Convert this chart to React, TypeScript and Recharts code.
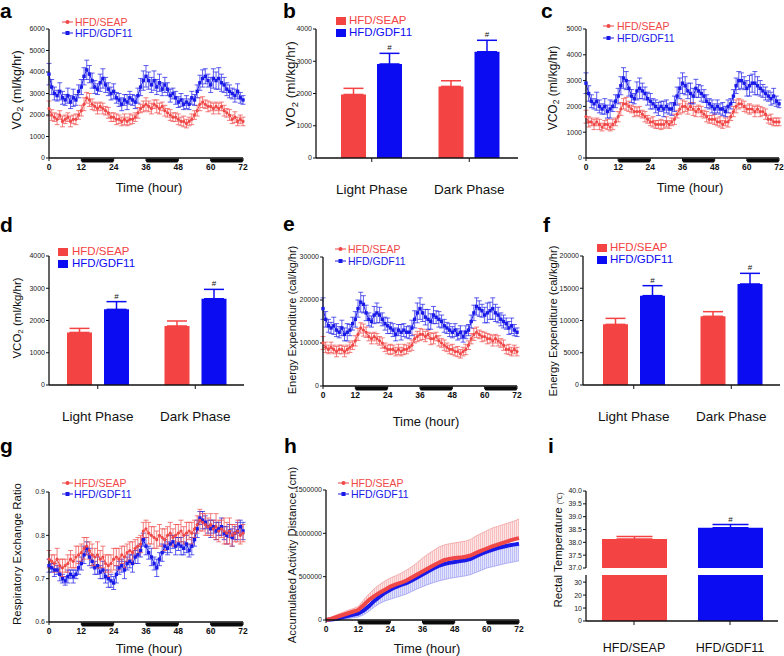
import React from 'react';
import { ComposedChart, Line, Bar, Area, XAxis, YAxis, ErrorBar, ReferenceLine } from 'recharts';

const FONT = '"Liberation Sans", Arial, Helvetica, sans-serif';
const RED = '#F04747';
const BLUE = '#1A1AE8';
const BAR_RED = '#F44343';
const BAR_BLUE = '#0C0CF2';
const INK = '#111';

// ---- shared time axis (hours) ----
const HOURS = [
  0, 1, 2, 3, 4, 5, 6, 7, 8, 9, 10, 11,
  12, 13, 14, 15, 16, 17, 18, 19, 20, 21, 22, 23,
  24, 25, 26, 27, 28, 29, 30, 31, 32, 33, 34, 35,
  36, 37, 38, 39, 40, 41, 42, 43, 44, 45, 46, 47,
  48, 49, 50, 51, 52, 53, 54, 55, 56, 57, 58, 59,
  60, 61, 62, 63, 64, 65, 66, 67, 68, 69, 70, 71,
  72,
];
const TIME_TICKS = [0, 12, 24, 36, 48, 60, 72];
const DARK_PHASES = [[12, 24], [36, 48], [60, 72]];

// ---- a: VO2 ----
const A_GDF = [
  3900, 3300, 3000, 2900, 3100, 2800, 2700, 2900, 2600, 2800, 2700, 3100,
  3300, 3800, 4100, 3900, 3600, 3300, 3200, 3500, 3700, 3400, 3200, 3000,
  3100, 2800, 2700, 2500, 2700, 2600, 2800, 2700, 2600, 2900, 3300, 3600,
  3800, 3600, 3400, 3600, 3300, 3500, 3200, 3400, 3200, 2900, 3000, 2800,
  2600, 2700, 2500, 2600, 2500, 2800, 2700, 3100, 3500, 3700, 3800, 3600,
  3400, 3700, 3600, 3700, 3500, 3400, 3200, 3100, 3000, 2900, 3100, 2800,
  2700,
];
const A_GDF_ERR = [
  500, 350, 300, 250, 400, 300, 250, 350, 300, 400, 250, 300,
  350, 400, 450, 400, 350, 300, 250, 400, 450, 350, 300, 300,
  350, 250, 300, 300, 250, 350, 300, 250, 300, 350, 400, 450,
  500, 400, 350, 450, 350, 400, 300, 350, 300, 300, 250, 300,
  250, 300, 250, 300, 250, 300, 250, 300, 350, 400, 350, 300,
  350, 450, 400, 500, 400, 350, 300, 300, 250, 300, 350, 250,
  200,
];
const A_SEAP = [
  2300, 2000, 1900, 1800, 2000, 1700, 1800, 1900, 1700, 1800, 1800, 2000,
  2200, 2500, 2800, 2700, 2500, 2400, 2300, 2400, 2300, 2200, 2100, 1900,
  1900, 1800, 1800, 1700, 1800, 1700, 1800, 1800, 1900, 2100, 2300, 2400,
  2500, 2400, 2300, 2500, 2400, 2300, 2400, 2200, 2100, 2000, 1900, 1900,
  1800, 1700, 1700, 1600, 1700, 1800, 2000, 2200, 2500, 2600, 2500, 2400,
  2400, 2300, 2400, 2300, 2400, 2200, 2100, 2000, 1800, 1900, 1700, 1800,
  1700,
];
const A_SEAP_ERR = [
  350, 250, 200, 250, 200, 250, 200, 200, 250, 200, 250, 200,
  250, 300, 250, 300, 250, 200, 250, 200, 250, 200, 250, 200,
  200, 250, 200, 200, 250, 200, 250, 200, 200, 250, 200, 250,
  300, 250, 250, 200, 300, 250, 200, 250, 200, 250, 200, 200,
  250, 200, 250, 200, 200, 250, 200, 250, 300, 250, 200, 250,
  200, 250, 200, 250, 200, 250, 200, 250, 200, 250, 200, 200,
  200,
];

// ---- c: VCO2 ----
const C_GDF = [
  2900, 2500, 2200, 2100, 2200, 2000, 1900, 2000, 1800, 1900, 2000, 2200,
  2400, 2800, 3100, 3000, 2700, 2400, 2300, 2600, 2700, 2600, 2500, 2300,
  2200, 2100, 2000, 1900, 2000, 1900, 2000, 1900, 1900, 2100, 2400, 2700,
  2900, 2800, 2600, 2500, 2400, 2700, 2600, 2500, 2400, 2200, 2100, 2000,
  1900, 2000, 1900, 1900, 1800, 2000, 2100, 2400, 2800, 3000, 3000, 2900,
  2700, 2800, 2900, 2900, 2800, 2700, 2600, 2500, 2400, 2300, 2400, 2200,
  2100,
];
const C_GDF_ERR = [
  400, 300, 250, 200, 350, 250, 200, 300, 250, 350, 200, 250,
  300, 350, 400, 350, 300, 250, 200, 350, 400, 300, 250, 250,
  300, 200, 250, 250, 200, 300, 250, 200, 250, 300, 350, 400,
  400, 350, 300, 400, 300, 350, 250, 300, 250, 250, 200, 250,
  200, 250, 200, 250, 200, 250, 200, 250, 300, 350, 300, 250,
  300, 400, 350, 450, 350, 300, 250, 250, 200, 250, 300, 200,
  150,
];
const C_SEAP = [
  1600, 1400, 1400, 1300, 1400, 1300, 1200, 1300, 1300, 1200, 1300, 1400,
  1600, 1900, 2100, 2100, 2000, 1900, 1800, 1800, 1800, 1700, 1600, 1500,
  1400, 1400, 1300, 1300, 1300, 1300, 1400, 1300, 1400, 1500, 1700, 1900,
  2000, 2000, 1900, 2000, 1900, 1800, 1900, 1800, 1700, 1600, 1500, 1500,
  1500, 1400, 1400, 1300, 1400, 1400, 1600, 1800, 2000, 2100, 2100, 2000,
  1900, 1900, 1900, 1800, 1900, 1800, 1800, 1700, 1500, 1500, 1400, 1400,
  1400,
];
const C_SEAP_ERR = [
  250, 200, 150, 200, 150, 200, 150, 150, 200, 150, 200, 150,
  200, 250, 200, 250, 200, 150, 200, 150, 200, 150, 200, 150,
  150, 200, 150, 150, 200, 150, 200, 150, 150, 200, 150, 200,
  250, 200, 200, 150, 250, 200, 150, 200, 150, 200, 150, 150,
  200, 150, 200, 150, 150, 200, 150, 200, 250, 200, 150, 200,
  150, 200, 150, 200, 150, 200, 150, 200, 150, 200, 150, 150,
  150,
];

// ---- e: energy expenditure ----
const E_GDF = [
  18000, 15500, 14000, 13500, 14000, 13000, 12500, 13500, 12000, 12500, 13000, 14500,
  15500, 18000, 19500, 19000, 17000, 15500, 15000, 16500, 17000, 16500, 15500, 14500,
  14000, 13500, 13000, 12000, 13000, 12500, 13000, 12500, 12500, 13500, 15500, 17000,
  18000, 17000, 16000, 15500, 15000, 16500, 16000, 15500, 15000, 14000, 13500, 13000,
  12500, 13000, 12000, 12500, 11500, 12500, 13000, 15000, 17000, 18500, 18000, 17500,
  16500, 17000, 17500, 18000, 17000, 16500, 15500, 15000, 14500, 13500, 14000, 13000,
  12500,
];
const E_GDF_ERR = [
  2500, 1800, 1500, 1300, 2000, 1500, 1300, 1800, 1500, 2000, 1300, 1500,
  1800, 2000, 2300, 2000, 1800, 1500, 1300, 2000, 2300, 1800, 1500, 1500,
  1800, 1300, 1500, 1500, 1300, 1800, 1500, 1300, 1500, 1800, 2000, 2300,
  2500, 2000, 1800, 2300, 1800, 2000, 1500, 1800, 1500, 1500, 1300, 1500,
  1300, 1500, 1300, 1500, 1300, 1500, 1300, 1500, 1800, 2000, 1800, 1500,
  1800, 2300, 2000, 2500, 2000, 1800, 1500, 1500, 1300, 1500, 1800, 1300,
  1000,
];
const E_SEAP = [
  10000, 9000, 8500, 9000, 8500, 8000, 8500, 8500, 8000, 8500, 9000, 9500,
  10500, 12000, 13500, 13000, 12500, 11500, 11000, 11500, 11000, 10500, 10000, 9000,
  8500, 8500, 8500, 8000, 8500, 8000, 8500, 8500, 9000, 9500, 11000, 11500,
  12000, 12000, 11500, 12000, 11000, 11000, 11500, 10500, 10000, 9500, 9000, 8500,
  8500, 8000, 8000, 7500, 8000, 8500, 9500, 11000, 12000, 12500, 12000, 11500,
  11500, 11000, 11000, 10500, 11000, 10500, 10000, 9500, 8500, 8500, 8000, 8500,
  8000,
];
const E_SEAP_ERR = [
  1500, 1200, 1000, 1200, 1000, 1200, 1000, 1000, 1200, 1000, 1200, 1000,
  1200, 1400, 1200, 1400, 1200, 1000, 1200, 1000, 1200, 1000, 1200, 1000,
  1000, 1200, 1000, 1000, 1200, 1000, 1200, 1000, 1000, 1200, 1000, 1200,
  1400, 1200, 1200, 1000, 1400, 1200, 1000, 1200, 1000, 1200, 1000, 1000,
  1200, 1000, 1200, 1000, 1000, 1200, 1000, 1200, 1400, 1200, 1000, 1200,
  1000, 1200, 1000, 1200, 1000, 1200, 1000, 1200, 1000, 1200, 1000, 1000,
  1000,
];

// ---- g: respiratory exchange ratio ----
const G_SEAP = [
  0.745, 0.74, 0.735, 0.745, 0.73, 0.725, 0.73, 0.735, 0.745, 0.74, 0.75, 0.755,
  0.76, 0.77, 0.775, 0.765, 0.755, 0.75, 0.755, 0.745, 0.75, 0.735, 0.73, 0.735,
  0.745, 0.75, 0.745, 0.755, 0.75, 0.76, 0.765, 0.76, 0.77, 0.775, 0.78, 0.81,
  0.815, 0.805, 0.8, 0.795, 0.79, 0.8, 0.795, 0.79, 0.8, 0.805, 0.795, 0.8,
  0.805, 0.81, 0.8, 0.805, 0.81, 0.805, 0.815, 0.825, 0.835, 0.83, 0.825, 0.82,
  0.825, 0.815, 0.82, 0.81, 0.815, 0.81, 0.805, 0.81, 0.8, 0.805, 0.81, 0.8,
  0.805,
];
const G_SEAP_ERR = [
  0.02, 0.015, 0.02, 0.025, 0.015, 0.02, 0.015, 0.02, 0.02, 0.015, 0.025, 0.02,
  0.02, 0.025, 0.02, 0.02, 0.025, 0.02, 0.03, 0.02, 0.025, 0.02, 0.025, 0.02,
  0.025, 0.02, 0.025, 0.02, 0.025, 0.02, 0.02, 0.025, 0.02, 0.02, 0.02, 0.02,
  0.02, 0.025, 0.02, 0.025, 0.02, 0.025, 0.02, 0.025, 0.02, 0.025, 0.02, 0.025,
  0.02, 0.025, 0.02, 0.025, 0.02, 0.025, 0.02, 0.02, 0.025, 0.02, 0.025, 0.02,
  0.025, 0.02, 0.03, 0.025, 0.02, 0.03, 0.025, 0.03, 0.025, 0.02, 0.025, 0.02,
  0.02,
];
const G_GDF = [
  0.73, 0.725, 0.72, 0.72, 0.71, 0.7, 0.695, 0.705, 0.71, 0.705, 0.71, 0.725,
  0.735, 0.755, 0.77, 0.75, 0.74, 0.725, 0.73, 0.715, 0.72, 0.705, 0.7, 0.695,
  0.69, 0.71, 0.725, 0.73, 0.72, 0.735, 0.74, 0.735, 0.75, 0.755, 0.765, 0.79,
  0.775, 0.76, 0.75, 0.735, 0.725, 0.745, 0.76, 0.775, 0.77, 0.78, 0.785, 0.775,
  0.78, 0.775, 0.77, 0.78, 0.765, 0.775, 0.79, 0.815, 0.84, 0.835, 0.83, 0.82,
  0.815, 0.82, 0.81, 0.815, 0.82, 0.805, 0.8, 0.81, 0.795, 0.805, 0.81, 0.82,
  0.81,
];
const G_GDF_ERR = [
  0.015, 0.01, 0.015, 0.01, 0.015, 0.01, 0.01, 0.015, 0.01, 0.015, 0.01, 0.015,
  0.015, 0.02, 0.015, 0.02, 0.015, 0.015, 0.02, 0.015, 0.02, 0.015, 0.02, 0.015,
  0.015, 0.02, 0.015, 0.015, 0.02, 0.015, 0.015, 0.02, 0.015, 0.02, 0.015, 0.015,
  0.02, 0.015, 0.02, 0.015, 0.02, 0.015, 0.02, 0.015, 0.015, 0.02, 0.015, 0.02,
  0.015, 0.02, 0.015, 0.02, 0.015, 0.02, 0.015, 0.02, 0.015, 0.02, 0.015, 0.015,
  0.02, 0.015, 0.02, 0.015, 0.02, 0.015, 0.02, 0.015, 0.02, 0.015, 0.02, 0.015,
  0.02,
];

// ---- h: accumulated activity distance (every 2 h) ----
const H_TIME = [
  0, 2, 4, 6, 8, 10, 12, 14, 16, 18, 20, 22,
  24, 26, 28, 30, 32, 34, 36, 38, 40, 42, 44, 46,
  48, 50, 52, 54, 56, 58, 60, 62, 64, 66, 68, 70,
  72,
];
const H_SEAP = [
  0, 15000, 35000, 55000, 75000, 95000, 115000, 170000, 230000, 275000, 315000, 350000,
  385000, 410000, 430000, 455000, 490000, 525000, 560000, 595000, 630000, 660000, 690000, 705000,
  715000, 720000, 730000, 745000, 775000, 800000, 825000, 850000, 870000, 890000, 910000, 930000,
  945000,
];
const H_SEAP_UP = [
  0, 30000, 60000, 85000, 110000, 130000, 155000, 230000, 300000, 360000, 410000, 450000,
  485000, 510000, 540000, 575000, 615000, 660000, 715000, 760000, 800000, 840000, 865000, 880000,
  890000, 900000, 910000, 930000, 970000, 1000000, 1030000, 1060000, 1080000, 1100000, 1120000, 1140000,
  1165000,
];
const H_GDF = [
  0, 5000, 15000, 30000, 45000, 60000, 75000, 110000, 160000, 220000, 270000, 315000,
  350000, 380000, 405000, 425000, 455000, 490000, 525000, 560000, 595000, 625000, 645000, 660000,
  670000, 680000, 690000, 705000, 735000, 765000, 790000, 810000, 830000, 845000, 860000, 870000,
  880000,
];
const H_GDF_LO = [
  0, 0, 0, 5000, 15000, 25000, 35000, 60000, 100000, 150000, 190000, 220000,
  240000, 260000, 280000, 300000, 330000, 360000, 385000, 410000, 430000, 450000, 465000, 480000,
  490000, 500000, 510000, 525000, 550000, 575000, 600000, 615000, 630000, 645000, 660000, 670000,
  685000,
];

// ---- bar panels ----
const PHASES = ['Light Phase', 'Dark Phase'];
const B_SEAP = [1970, 2220];
const B_SEAP_ERR = [190, 175];
const B_GDF = [2915, 3295];
const B_GDF_ERR = [330, 355];
const B_SIG = [true, true];

const D_SEAP = [1630, 1830];
const D_SEAP_ERR = [125, 155];
const D_GDF = [2345, 2675];
const D_GDF_ERR = [240, 290];
const D_SIG = [true, true];

const F_SEAP = [9400, 10650];
const F_SEAP_ERR = [930, 720];
const F_GDF = [13850, 15660];
const F_GDF_ERR = [1550, 1650];
const F_SIG = [true, true];

const I_GROUPS = ['HFD/SEAP', 'HFD/GDF11'];
const I_TEMP = [38.13, 38.57];
const I_ERR = [0.1, 0.12];
const I_SIG = [false, true];

type Box = { x: number; y: number; w: number; h: number };
type Plot = { l: number; r: number; t: number; b: number };

const Y_W = 30;
const xTick = { fontSize: 8.5, fontWeight: 700, fill: INK, fontFamily: FONT };
const yTick = { fontSize: 7, fill: '#222', fontFamily: FONT };
const axisLine = { stroke: INK, strokeWidth: 1.3 };

function marginFor(box: Box, plot: Plot, xH: number) {
  return {
    top: plot.t - box.y,
    left: plot.l - box.x - Y_W,
    right: box.x + box.w - plot.r,
    bottom: box.y + box.h - plot.b - xH,
  };
}

function tsRows(seap: number[], seapErr: number[], gdf: number[], gdfErr: number[]) {
  return HOURS.map((t, i) => ({ t, seap: seap[i], seapErr: seapErr[i], gdf: gdf[i], gdfErr: gdfErr[i] }));
}

const circleDot = (color: string) => (p: any) =>
  p.cx == null ? <g key={`c${p.index}`} /> : <circle key={`c${p.index}`} cx={p.cx} cy={p.cy} r={1.6} fill={color} />;
const squareDot = (color: string) => (p: any) =>
  p.cx == null ? <g key={`s${p.index}`} /> : (
    <rect key={`s${p.index}`} x={p.cx - 1.7} y={p.cy - 1.7} width={3.4} height={3.4} fill={color} />
  );

// black bar under the x axis marking the dark phase
const darkBar = (p: any) => (
  <rect x={p.x1} y={p.y1 + 0.6} width={Math.max(0, p.x2 - p.x1)} height={4} rx={1.5} fill="#0a0a0a" />
);

function Text({ x, y, size, color = INK, weight = 400, children }: any) {
  return (
    <div
      style={{
        position: 'absolute', left: x, top: y, transform: 'translate(-50%, -50%)', fontSize: size,
        color, fontWeight: weight, fontFamily: FONT, whiteSpace: 'nowrap', lineHeight: 1,
      }}
    >
      {children}
    </div>
  );
}

function VLabel({ x, y, size, children }: any) {
  return (
    <div
      style={{
        position: 'absolute', left: x, top: y, transform: 'translate(-50%, -50%) rotate(-90deg)',
        fontSize: size, color: INK, fontFamily: FONT, whiteSpace: 'nowrap', lineHeight: 1,
      }}
    >
      {children}
    </div>
  );
}

function Letter({ x, base, ch }: any) {
  return (
    <div style={{ position: 'absolute', left: x, top: base - 17.8, fontSize: 21, fontWeight: 700, fontFamily: FONT, lineHeight: 1, color: '#000' }}>
      {ch}
    </div>
  );
}

const Sub = ({ children }: any) => <span style={{ fontSize: '0.7em', verticalAlign: '-0.25em', lineHeight: 0 }}>{children}</span>;

function LineLegend({ x, textX, y1, y2, size = 10.5 }: any) {
  const rows = [
    { y: y1, color: RED, label: 'HFD/SEAP', sq: false },
    { y: y2, color: BLUE, label: 'HFD/GDF11', sq: true },
  ];
  return (
    <>
      {rows.map((r) => (
        <React.Fragment key={r.label}>
          <svg style={{ position: 'absolute', left: x, top: r.y - 3 }} width={11} height={6}>
            <line x1={0} y1={3} x2={11} y2={3} stroke={r.color} strokeWidth={1} />
            {r.sq ? <rect x={3.5} y={1} width={4} height={4} fill={r.color} /> : <circle cx={5.5} cy={3} r={2} fill={r.color} />}
          </svg>
          <div style={{ position: 'absolute', left: textX, top: r.y, transform: 'translateY(-50%)', fontSize: size, color: r.color, fontFamily: FONT, lineHeight: 1, whiteSpace: 'nowrap' }}>
            {r.label}
          </div>
        </React.Fragment>
      ))}
    </>
  );
}

function BarLegend({ x, textX, y1, y2, size = 11.5 }: any) {
  const rows = [
    { y: y1, color: BAR_RED, label: 'HFD/SEAP' },
    { y: y2, color: BAR_BLUE, label: 'HFD/GDF11' },
  ];
  return (
    <>
      {rows.map((r) => (
        <React.Fragment key={r.label}>
          <div style={{ position: 'absolute', left: x, top: r.y - 4, width: 10, height: 8, background: r.color }} />
          <div style={{ position: 'absolute', left: textX, top: r.y, transform: 'translateY(-50%)', fontSize: size, color: r.color, fontFamily: FONT, lineHeight: 1, whiteSpace: 'nowrap' }}>
            {r.label}
          </div>
        </React.Fragment>
      ))}
    </>
  );
}

function TimePanel({ box, plot, data, yDomain, yTicks, yFmt, redOnTop }: any) {
  const margin = marginFor(box, plot, 20);
  const seap = (
    <Line key="seap" type="linear" dataKey="seap" stroke={RED} strokeWidth={1} dot={circleDot(RED)} activeDot={false} isAnimationActive={false}>
      <ErrorBar dataKey="seapErr" width={2.5} stroke={RED} strokeWidth={0.7} direction="y" />
    </Line>
  );
  const gdf = (
    <Line key="gdf" type="linear" dataKey="gdf" stroke={BLUE} strokeWidth={1} dot={squareDot(BLUE)} activeDot={false} isAnimationActive={false}>
      <ErrorBar dataKey="gdfErr" width={2.5} stroke={BLUE} strokeWidth={0.7} direction="y" />
    </Line>
  );
  return (
    <div style={{ position: 'absolute', left: box.x, top: box.y }}>
      <ComposedChart width={box.w} height={box.h} data={data} margin={margin}>
        <XAxis dataKey="t" type="number" domain={[0, 72]} ticks={TIME_TICKS} interval={0} height={20} tick={xTick}
          tickSize={3} tickMargin={3} axisLine={axisLine} tickLine={{ stroke: INK }} />
        <YAxis width={Y_W} type="number" domain={yDomain} ticks={yTicks} interval={0} tick={yTick} tickFormatter={yFmt}
          tickSize={3} tickMargin={1} axisLine={axisLine} tickLine={{ stroke: INK }} />
        {redOnTop ? [gdf, seap] : [seap, gdf]}
        {DARK_PHASES.map(([a, b]) => (
          <ReferenceLine key={a} segment={[{ x: a, y: yDomain[0] }, { x: b, y: yDomain[0] }]} shape={darkBar} ifOverflow="visible" />
        ))}
      </ComposedChart>
    </div>
  );
}

// '#' above the error bar of significant bars (index found from the bar's value)
const sigLabel = (vals: number[], sig: boolean[], errs: number[], base: number) => (p: any) => {
  const v = Number(Array.isArray(p.value) ? p.value[1] : p.value);
  let i = vals.indexOf(v);
  if (i < 0) i = p.index;
  if (i == null || !sig[i]) return null;
  const vb = p.viewBox && p.viewBox.width != null ? p.viewBox : p;
  const h = Math.abs(vb.height);
  const top = Math.min(vb.y, vb.y + vb.height);
  const errPx = (errs[i] * h) / (v - base);
  return (
    <text key={`sig${i}`} x={vb.x + vb.width / 2} y={top - errPx - 3} textAnchor="middle" fontSize={8} fontFamily={FONT} fill={INK}>
      #
    </text>
  );
};

function BarPanel({ box, plot, padL, seap, seapErr, gdf, gdfErr, sig, yMax, yTicks, barGap }: any) {
  const data = PHASES.map((c, i) => ({ c, seap: seap[i], seapErr: [0, seapErr[i]], gdf: gdf[i], gdfErr: [0, gdfErr[i]] }));
  const xH = 45;
  const margin = marginFor(box, plot, xH);
  return (
    <div style={{ position: 'absolute', left: box.x, top: box.y }}>
      <ComposedChart width={box.w} height={box.h} data={data} margin={margin} barSize={25} barGap={barGap}>
        <XAxis dataKey="c" type="category" height={xH} padding={{ left: padL, right: 0 }} interval={0} tickSize={4} tickMargin={22}
          tick={{ fontSize: 13.5, fill: INK, fontFamily: FONT }} axisLine={axisLine} tickLine={{ stroke: INK }} />
        <YAxis width={Y_W} type="number" domain={[0, yMax]} ticks={yTicks} interval={0} tick={yTick} tickSize={3} tickMargin={1}
          axisLine={axisLine} tickLine={{ stroke: INK }} />
        <Bar dataKey="seap" fill={BAR_RED} isAnimationActive={false}>
          <ErrorBar dataKey="seapErr" width={10} stroke={BAR_RED} strokeWidth={1.5} direction="y" />
        </Bar>
        <Bar dataKey="gdf" fill={BAR_BLUE} isAnimationActive={false} label={sigLabel(gdf, sig, gdfErr, 0)}>
          <ErrorBar dataKey="gdfErr" width={10} stroke={BAR_BLUE} strokeWidth={1.5} direction="y" />
        </Bar>
      </ComposedChart>
    </div>
  );
}

function ActivityPanel() {
  const box = { x: 260, y: 440, w: 270, h: 216 };
  const plot = { l: 326, r: 519, t: 490, b: 620 };
  const data = H_TIME.map((t, i) => ({
    t, seap: H_SEAP[i], gdf: H_GDF[i], seapBand: [H_SEAP[i], H_SEAP_UP[i]], gdfBand: [H_GDF_LO[i], H_GDF[i]],
  }));
  return (
    <div style={{ position: 'absolute', left: box.x, top: box.y }}>
      <ComposedChart width={box.w} height={box.h} data={data} margin={marginFor(box, plot, 20)}>
        <defs>
          <pattern id="hatchRed" width="2" height="8" patternUnits="userSpaceOnUse">
            <rect width="2" height="8" fill="#fde4e4" />
            <line x1="0.5" y1="0" x2="0.5" y2="8" stroke="#f5a8a8" strokeWidth="0.6" />
          </pattern>
          <pattern id="hatchBlue" width="2" height="8" patternUnits="userSpaceOnUse">
            <rect width="2" height="8" fill="#e2e2fd" />
            <line x1="0.5" y1="0" x2="0.5" y2="8" stroke="#a8a8f5" strokeWidth="0.6" />
          </pattern>
        </defs>
        <XAxis dataKey="t" type="number" domain={[0, 72]} ticks={TIME_TICKS} interval={0} height={20} tick={xTick}
          tickSize={3} tickMargin={3} axisLine={axisLine} tickLine={{ stroke: INK }} />
        <YAxis width={Y_W} type="number" domain={[0, 1500000]} ticks={[0, 500000, 1000000, 1500000]} interval={0} tick={yTick}
          tickSize={3} tickMargin={1} axisLine={axisLine} tickLine={{ stroke: INK }} />
        <Area type="linear" dataKey="seapBand" stroke="#f3a0a0" strokeWidth={0.8} fill="url(#hatchRed)" fillOpacity={1} isAnimationActive={false} />
        <Area type="linear" dataKey="gdfBand" stroke="#a0a0f3" strokeWidth={0.8} fill="url(#hatchBlue)" fillOpacity={1} isAnimationActive={false} />
        <Line type="linear" dataKey="gdf" stroke={BLUE} strokeWidth={4} dot={false} activeDot={false} isAnimationActive={false} />
        <Line type="linear" dataKey="seap" stroke={RED} strokeWidth={4} dot={false} activeDot={false} isAnimationActive={false} />
        {DARK_PHASES.map(([a, b]) => (
          <ReferenceLine key={a} segment={[{ x: a, y: 0 }, { x: b, y: 0 }]} shape={darkBar} ifOverflow="visible" />
        ))}
      </ComposedChart>
    </div>
  );
}

function TemperaturePanel() {
  const rows = I_GROUPS.map((g, i) => ({
    g,
    seap: i === 0 ? I_TEMP[i] : null,
    seapErr: i === 0 ? [0, I_ERR[i]] : null,
    gdf: i === 1 ? I_TEMP[i] : null,
    gdfErr: i === 1 ? [0, I_ERR[i]] : null,
  }));
  const upBox = { x: 520, y: 470, w: 264, h: 100 };
  const upPlot = { l: 586, r: 778, t: 491, b: 568 };
  const loBox = { x: 520, y: 570, w: 264, h: 86 };
  const loPlot = { l: 586, r: 778, t: 575, b: 621 };
  const bars = (withErr: boolean) => [
    <Bar key="s" dataKey="seap" fill={BAR_RED} isAnimationActive={false}>
      {withErr && <ErrorBar dataKey="seapErr" width={18} stroke={BAR_RED} strokeWidth={1.5} direction="y" />}
    </Bar>,
    <Bar key="g" dataKey="gdf" fill={BAR_BLUE} isAnimationActive={false} label={withErr ? sigLabel(I_TEMP, I_SIG, I_ERR, 37) : undefined}>
      {withErr && <ErrorBar dataKey="gdfErr" width={18} stroke={BAR_BLUE} strokeWidth={1.5} direction="y" />}
    </Bar>,
  ];
  return (
    <>
      <div style={{ position: 'absolute', left: upBox.x, top: upBox.y }}>
        <ComposedChart width={upBox.w} height={upBox.h} data={rows} margin={marginFor(upBox, upPlot, 0)} barSize={65} barGap={-65}>
          <XAxis dataKey="g" type="category" hide height={0} />
          <YAxis width={Y_W} type="number" domain={[37, 40]} ticks={[37, 37.5, 38, 38.5, 39, 39.5, 40]} interval={0} allowDataOverflow
            tick={yTick} tickFormatter={(v: number) => v.toFixed(1)} tickSize={3} tickMargin={1} axisLine={axisLine} tickLine={{ stroke: INK }} />
          {bars(true)}
        </ComposedChart>
      </div>
      <div style={{ position: 'absolute', left: loBox.x, top: loBox.y }}>
        <ComposedChart width={loBox.w} height={loBox.h} data={rows} margin={marginFor(loBox, loPlot, 35)} barSize={65} barGap={-65}>
          <XAxis dataKey="g" type="category" height={35} interval={0} tickSize={4} tickMargin={18}
            tick={{ fontSize: 12.5, fill: INK, fontFamily: FONT }} axisLine={axisLine} tickLine={{ stroke: INK }} />
          <YAxis width={Y_W} type="number" domain={[0, 35.5]} ticks={[0, 10, 20, 30]} interval={0} allowDataOverflow
            tick={yTick} tickSize={3} tickMargin={1} axisLine={axisLine} tickLine={{ stroke: INK }} />
          {bars(false)}
        </ComposedChart>
      </div>
    </>
  );
}

export default function App() {
  const aData = tsRows(A_SEAP, A_SEAP_ERR, A_GDF, A_GDF_ERR);
  const cData = tsRows(C_SEAP, C_SEAP_ERR, C_GDF, C_GDF_ERR);
  const eData = tsRows(E_SEAP, E_SEAP_ERR, E_GDF, E_GDF_ERR);
  const gData = tsRows(G_SEAP, G_SEAP_ERR, G_GDF, G_GDF_ERR);
  return (
    <div style={{ position: 'absolute', left: 0, top: 0, width: 784, height: 656, background: '#fff', overflow: 'hidden', fontFamily: FONT }}>
      {/* a */}
      <TimePanel box={{ x: 0, y: 0, w: 260, h: 200 }} plot={{ l: 49, r: 243, t: 29, b: 158 }} data={aData}
        yDomain={[0, 6000]} yTicks={[0, 1000, 2000, 3000, 4000, 5000, 6000]} />
      <Letter x={0} base={18} ch="a" />
      <VLabel x={17} y={90} size={12.5}>VO<Sub>2</Sub> (ml/kg/hr)</VLabel>
      <LineLegend x={62} textX={75} y1={22} y2={33} />
      <Text x={149} y={187} size={13}>Time (hour)</Text>

      {/* b */}
      <BarPanel box={{ x: 260, y: 0, w: 260, h: 215 }} plot={{ l: 316, r: 518, t: 29, b: 158 }} padL={7} barGap={11}
        seap={B_SEAP} seapErr={B_SEAP_ERR} gdf={B_GDF} gdfErr={B_GDF_ERR} sig={B_SIG} yMax={4000} yTicks={[0, 1000, 2000, 3000, 4000]} />
      <Letter x={283} base={18} ch="b" />
      <VLabel x={291} y={84} size={13.5}>VO<Sub>2</Sub> (ml/kg/hr)</VLabel>
      <BarLegend x={336} textX={349} y1={21} y2={33} />

      {/* c */}
      <TimePanel box={{ x: 520, y: 0, w: 264, h: 200 }} plot={{ l: 586, r: 779, t: 29, b: 158 }} data={cData}
        yDomain={[0, 5000]} yTicks={[0, 1000, 2000, 3000, 4000, 5000]} />
      <Letter x={541} base={18} ch="c" />
      <VLabel x={553} y={88} size={12}>VCO<Sub>2</Sub> (ml/kg/hr)</VLabel>
      <LineLegend x={603} textX={617} y1={26} y2={38} />
      <Text x={690} y={187} size={13}>Time (hour)</Text>

      {/* d */}
      <BarPanel box={{ x: 0, y: 215, w: 260, h: 225 }} plot={{ l: 49, r: 244, t: 256, b: 385 }} padL={0} barGap={12}
        seap={D_SEAP} seapErr={D_SEAP_ERR} gdf={D_GDF} gdfErr={D_GDF_ERR} sig={D_SIG} yMax={4000} yTicks={[0, 1000, 2000, 3000, 4000]} />
      <Letter x={0} base={232} ch="d" />
      <VLabel x={18} y={318} size={11.5}>VCO<Sub>2</Sub> (ml/kg/hr)</VLabel>
      <BarLegend x={58} textX={72} y1={252} y2={264} />

      {/* e */}
      <TimePanel box={{ x: 260, y: 215, w: 270, h: 215 }} plot={{ l: 323, r: 517, t: 257, b: 386 }} data={eData}
        yDomain={[0, 30000]} yTicks={[0, 10000, 20000, 30000]} />
      <Letter x={283} base={231} ch="e" />
      <VLabel x={292} y={320} size={11}>Energy Expenditure (cal/kg/hr)</VLabel>
      <LineLegend x={335} textX={348} y1={249} y2={261} />
      <Text x={426} y={421} size={13}>Time (hour)</Text>

      {/* f */}
      <BarPanel box={{ x: 520, y: 215, w: 264, h: 225 }} plot={{ l: 583, r: 780, t: 256, b: 385 }} padL={2} barGap={12}
        seap={F_SEAP} seapErr={F_SEAP_ERR} gdf={F_GDF} gdfErr={F_GDF_ERR} sig={F_SIG} yMax={20000} yTicks={[0, 5000, 10000, 15000, 20000]} />
      <Letter x={543} base={232} ch="f" />
      <VLabel x={554} y={321} size={11.2}>Energy Expenditure (cal/kg/hr)</VLabel>
      <BarLegend x={597} textX={610} y1={248} y2={260} />

      {/* g */}
      <TimePanel box={{ x: 0, y: 440, w: 260, h: 216 }} plot={{ l: 49, r: 243, t: 492, b: 622 }} data={gData}
        yDomain={[0.6, 0.9]} yTicks={[0.6, 0.7, 0.8, 0.9]} yFmt={(v: number) => v.toFixed(1)} redOnTop />
      <Letter x={0} base={453} ch="g" />
      <VLabel x={18} y={554} size={11.4}>Respiratory Exchange Ratio</VLabel>
      <LineLegend x={62} textX={74} y1={483} y2={494} />
      <Text x={149} y={648} size={13}>Time (hour)</Text>

      {/* h */}
      <ActivityPanel />
      <Letter x={284} base={453} ch="h" />
      <VLabel x={293} y={555} size={11.3}>Accumulated Activity Distance (cm)</VLabel>
      <LineLegend x={338} textX={351} y1={483} y2={494} />
      <Text x={427} y={648} size={13}>Time (hour)</Text>

      {/* i */}
      <TemperaturePanel />
      <Letter x={548} base={453} ch="i" />
      <VLabel x={559} y={550} size={11.5}>Rectal Temperature <span style={{ fontSize: 7 }}>(℃)</span></VLabel>
    </div>
  );
}
